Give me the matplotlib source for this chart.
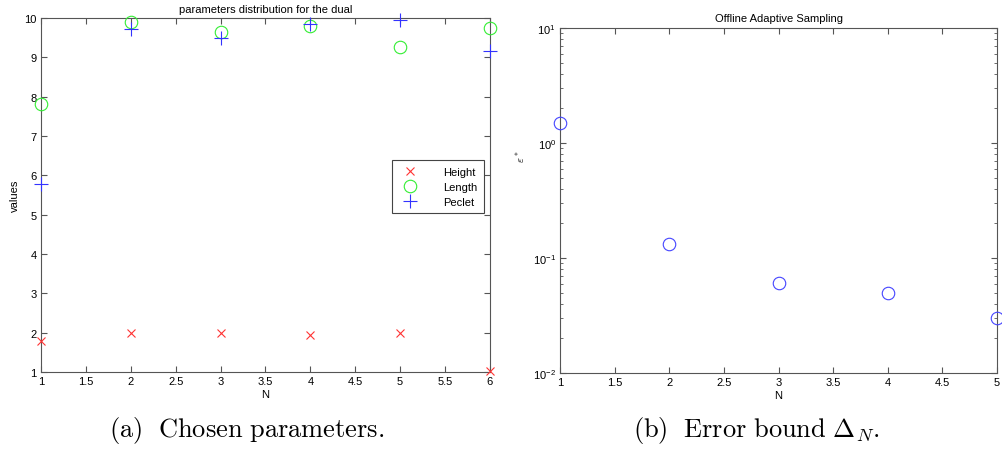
import numpy as np
import matplotlib.pyplot as plt

plt.rcParams['font.family'] = ['Liberation Sans', 'DejaVu Sans']
plt.rcParams['mathtext.fontset'] = 'cm'

# data
N_params = [1, 2, 3, 4, 5, 6]
height = [1.78, 2.0, 2.0, 1.95, 2.0, 1.02]
length = [7.82, 9.9, 9.65, 9.8, 9.27, 9.75]
peclet = [5.78, 9.72, 9.5, 9.85, 9.95, 9.15]

N_err = [1, 2, 3, 4, 5]
err_bound = [1.49, 0.132, 0.0607, 0.0497, 0.030]

fig = plt.figure(figsize=(10.02, 4.52), dpi=100)
ax1 = fig.add_axes([0.0409, 0.175, 0.448, 0.783])
ax2 = fig.add_axes([0.559, 0.1726, 0.436, 0.763])

ax1.plot(N_params, height, 'x', color='#ff3333', ms=6, mew=0.8, label='Height', clip_on=False, zorder=3)
ax1.plot(N_params, length, 'o', color='#33ee33', mfc='none', ms=9, mew=0.8, label='Length', clip_on=False, zorder=3)
ax1.plot(N_params, peclet, '+', color='#3333ff', ms=10, mew=0.8, label='Peclet', clip_on=False, zorder=3)
ax1.set_xlim(1, 6)
ax1.set_ylim(1, 10)
ax1.set_xticks(np.arange(1, 6.01, 0.5))
ax1.set_xticklabels(['1', '1.5', '2', '2.5', '3', '3.5', '4', '4.5', '5', '5.5', '6'])
ax1.set_yticks(range(1, 11))
ax1.set_xlabel('N', fontsize=8, labelpad=2)
ax1.set_ylabel('values', fontsize=8, labelpad=3)
ax1.set_title('parameters distribution for the dual', fontsize=8, pad=4)
leg = ax1.legend(loc='upper right', bbox_to_anchor=(0.999, 0.614), fontsize=8,
                 fancybox=False, framealpha=1, edgecolor='#444444',
                 handletextpad=2.0, borderpad=0.6, labelspacing=0.45)
leg.get_frame().set_linewidth(0.8)

ax2.semilogy(N_err, err_bound, 'o', color='#4444ff', mfc='none', ms=9, mew=0.8, clip_on=False, zorder=3)
ax2.set_xlim(1, 5)
ax2.set_ylim(1e-2, 1e1)
ax2.set_xticks(np.arange(1, 5.01, 0.5))
ax2.set_xticklabels(['1', '1.5', '2', '2.5', '3', '3.5', '4', '4.5', '5'])
ax2.set_xlabel('N', fontsize=8, labelpad=2)
ax2.set_ylabel(r'$\varepsilon^*$', fontsize=8)
ax2.yaxis.set_label_coords(-0.075, 0.63)
ax2.set_title('Offline Adaptive Sampling', fontsize=8, pad=5)

for ax in (ax1, ax2):
    ax.tick_params(which='both', direction='in', top=True, right=True,
                   labelsize=8, color='#555555', pad=3)
    ax.tick_params(which='major', length=4)
    ax.tick_params(which='minor', length=2.5)
    for s in ax.spines.values():
        s.set_color('#555555')
        s.set_linewidth(0.8)

fig.text(0.246, 0.048, r'$\mathrm{(a)\ \ Chosen\ parameters.}$', fontsize=19, ha='center', va='center')
fig.text(0.755, 0.048, r'$\mathrm{(b)\ \ Error\ bound\ }\mathbf{\Delta}_N\mathrm{.}$', fontsize=19, ha='center', va='center')

fig.savefig('out.png', dpi=100)
